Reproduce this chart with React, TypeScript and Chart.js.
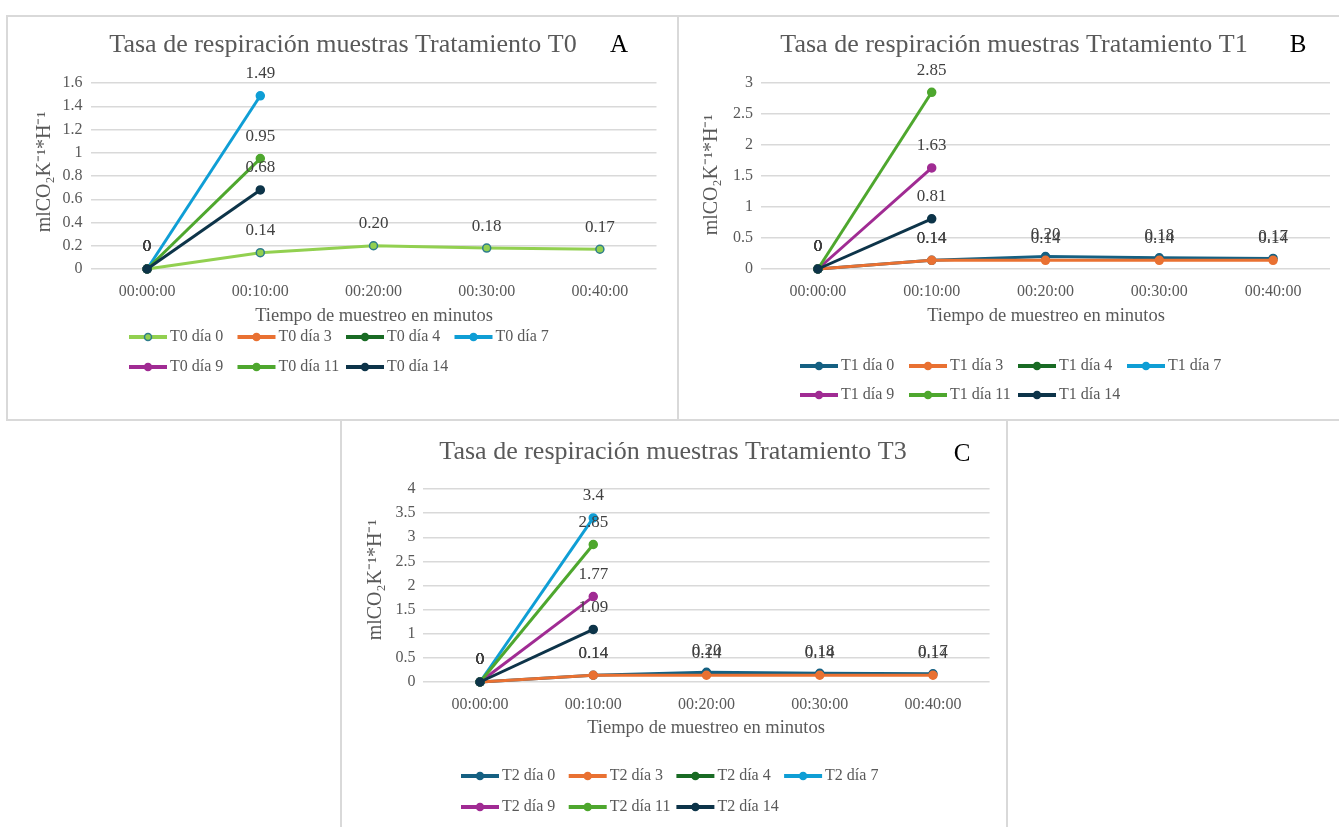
import React, { useEffect, useRef } from "react";
import { Chart, registerables } from "chart.js";
Chart.register(...registerables);

const FONT = "'Liberation Serif', 'Times New Roman', serif";
const TEXT = "#595959";
const LABEL = "#404040";

const timeLabels = ["00:00:00", "00:10:00", "00:20:00", "00:30:00", "00:40:00"];
const dayNames = ["0", "3", "4", "7", "9", "11", "14"];
const seriesColors = ["#156082", "#E97132", "#196B24", "#0F9ED5", "#A02B93", "#4EA72E", "#0D3449"];

// Tratamiento T0
const t0Dia0 = [0, 0.14, 0.2, 0.18, 0.17];
const t0Dia3 = [0];
const t0Dia4 = [0];
const t0Dia7 = [0, 1.49];
const t0Dia9 = [0];
const t0Dia11 = [0, 0.95];
const t0Dia14 = [0, 0.68];

// Tratamiento T1
const t1Dia0 = [0, 0.14, 0.2, 0.18, 0.17];
const t1Dia3 = [0, 0.14, 0.14, 0.14, 0.14];
const t1Dia4 = [0];
const t1Dia7 = [0];
const t1Dia9 = [0, 1.63];
const t1Dia11 = [0, 2.85];
const t1Dia14 = [0, 0.81];

// Tratamiento T3 (series T2)
const t2Dia0 = [0, 0.14, 0.2, 0.18, 0.17];
const t2Dia3 = [0, 0.14, 0.14, 0.14, 0.14];
const t2Dia4 = [0];
const t2Dia7 = [0, 3.4];
const t2Dia9 = [0, 1.77];
const t2Dia11 = [0, 2.85];
const t2Dia14 = [0, 1.09];

const yTitle = "mlCO₂K⁻¹*H⁻¹";
const xTitle = "Tiempo de muestreo en minutos";

function fmt(v: number) {
  if (v === 0) return "0";
  const s = v.toFixed(2);
  return v >= 1 && s.endsWith("0") ? s.slice(0, -1) : s;
}

type PanelCfg = {
  x: number; y: number; w: number; h: number;
  plot: { left: number; right: number; top: number; bottom: number };
  yMax: number; yStep: number;
  title: string; letter: string;
  titlePos: [number, number]; letterPos: [number, number];
  yTitlePos: [number, number]; xTitlePos: [number, number];
  legendX: number; legendPitch: number; legendRows: [number, number];
  prefix: string;
  data: number[][];
  colors: string[];
  pointBorders: string[];
};

const panels: PanelCfg[] = [
  {
    x: 8, y: 16, w: 670, h: 404,
    plot: { left: 82.5, right: 648.5, top: 67, bottom: 253 },
    yMax: 1.6, yStep: 0.2,
    title: "Tasa de respiración muestras Tratamiento T0", letter: "A",
    titlePos: [335, 29], letterPos: [611, 29],
    yTitlePos: [37, 156], xTitlePos: [366, 300],
    legendX: 121, legendPitch: 108.5, legendRows: [321, 351],
    prefix: "T0",
    data: [t0Dia0, t0Dia3, t0Dia4, t0Dia7, t0Dia9, t0Dia11, t0Dia14],
    colors: ["#92D050", ...seriesColors.slice(1)],
    pointBorders: ["#2E7D8C", ...seriesColors.slice(1)],
  },
  {
    x: 679, y: 16, w: 660, h: 404,
    plot: { left: 82, right: 651, top: 67, bottom: 253 },
    yMax: 3, yStep: 0.5,
    title: "Tasa de respiración muestras Tratamiento T1", letter: "B",
    titlePos: [335, 29], letterPos: [619, 29],
    yTitlePos: [33, 159], xTitlePos: [367, 300],
    legendX: 121, legendPitch: 109, legendRows: [350, 379],
    prefix: "T1",
    data: [t1Dia0, t1Dia3, t1Dia4, t1Dia7, t1Dia9, t1Dia11, t1Dia14],
    colors: seriesColors,
    pointBorders: seriesColors,
  },
  {
    x: 341, y: 421, w: 666, h: 406,
    plot: { left: 82.4, right: 648.6, top: 68, bottom: 261 },
    yMax: 4, yStep: 0.5,
    title: "Tasa de respiración muestras Tratamiento T3", letter: "C",
    titlePos: [332, 31], letterPos: [621, 33],
    yTitlePos: [35, 159], xTitlePos: [365, 307],
    legendX: 120, legendPitch: 107.7, legendRows: [355, 386],
    prefix: "T2",
    data: [t2Dia0, t2Dia3, t2Dia4, t2Dia7, t2Dia9, t2Dia11, t2Dia14],
    colors: seriesColors,
    pointBorders: seriesColors,
  },
];

function Panel({ cfg }: { cfg: PanelCfg }) {
  const ref = useRef<HTMLCanvasElement>(null);
  useEffect(() => {
    const canvas = ref.current!;
    const names = dayNames.map((d) => `${cfg.prefix} día ${d}`);
    const decor = {
      id: "decor",
      afterDatasetsDraw(chart: any) {
        const ctx = chart.ctx;
        ctx.save();
        ctx.font = `17px ${FONT}`;
        ctx.fillStyle = LABEL;
        ctx.textAlign = "center";
        ctx.textBaseline = "middle";
        chart.data.datasets.forEach((ds: any, i: number) => {
          const meta = chart.getDatasetMeta(i);
          meta.data.forEach((pt: any, j: number) => {
            const v = ds.data[j];
            if (v === null || v === undefined) return;
            ctx.fillText(fmt(v), pt.x, pt.y - 22);
          });
        });
        ctx.restore();
      },
      afterDraw(chart: any) {
        const ctx = chart.ctx;
        ctx.save();
        ctx.textBaseline = "middle";
        // title
        ctx.fillStyle = TEXT;
        ctx.textAlign = "center";
        ctx.font = `26px ${FONT}`;
        ctx.fillText(cfg.title, cfg.titlePos[0], cfg.titlePos[1]);
        // letter
        ctx.fillStyle = "#000";
        ctx.font = `25px ${FONT}`;
        ctx.fillText(cfg.letter, cfg.letterPos[0], cfg.letterPos[1]);
        // x title
        ctx.fillStyle = TEXT;
        ctx.font = `18.5px ${FONT}`;
        ctx.fillText(xTitle, cfg.xTitlePos[0], cfg.xTitlePos[1]);
        // y title
        ctx.save();
        ctx.font = `20px ${FONT}`;
        ctx.translate(cfg.yTitlePos[0], cfg.yTitlePos[1]);
        ctx.rotate(-Math.PI / 2);
        ctx.fillText(yTitle, 0, 0);
        ctx.restore();
        // legend
        ctx.font = `16px ${FONT}`;
        ctx.textAlign = "left";
        names.forEach((name, i) => {
          const col = i % 4;
          const row = Math.floor(i / 4);
          const x0 = cfg.legendX + col * cfg.legendPitch;
          const y = cfg.legendRows[row];
          ctx.strokeStyle = cfg.colors[i];
          ctx.lineWidth = 4;
          ctx.beginPath();
          ctx.moveTo(x0, y);
          ctx.lineTo(x0 + 38, y);
          ctx.stroke();
          ctx.beginPath();
          ctx.arc(x0 + 19, y, 3.5, 0, Math.PI * 2);
          ctx.fillStyle = cfg.colors[i];
          ctx.fill();
          ctx.lineWidth = 1.5;
          ctx.strokeStyle = cfg.pointBorders[i];
          ctx.stroke();
          ctx.fillStyle = TEXT;
          ctx.fillText(name, x0 + 41, y);
        });
        ctx.restore();
      },
    };

    const chart = new Chart(canvas, {
      type: "line",
      data: {
        labels: timeLabels,
        datasets: cfg.data.map((d, i) => ({
          label: names[i],
          data: d,
          borderColor: cfg.colors[i],
          backgroundColor: cfg.colors[i],
          pointBackgroundColor: cfg.colors[i],
          pointBorderColor: cfg.pointBorders[i],
          pointBorderWidth: 1.5,
          pointRadius: 4,
          borderWidth: 3,
          tension: 0,
          clip: false,
          order: -i,
        })),
      },
      options: {
        responsive: false,
        animation: false,
        devicePixelRatio: 1,
        layout: {
          padding: {
            left: cfg.plot.left - 40,
            right: cfg.w - cfg.plot.right,
            top: cfg.plot.top,
            bottom: cfg.h - cfg.plot.bottom - 40,
          },
        },
        plugins: {
          legend: { display: false },
          title: { display: false },
          tooltip: { enabled: false },
        },
        scales: {
          x: {
            type: "category",
            offset: true,
            grid: { display: false, drawTicks: false },
            border: { display: false },
            ticks: {
              color: TEXT,
              font: { family: FONT, size: 16 },
              padding: 13,
              maxRotation: 0,
              autoSkip: false,
            },
            afterFit: (s: any) => { s.height = 40; },
          },
          y: {
            min: 0,
            max: cfg.yMax,
            ticks: {
              stepSize: cfg.yStep,
              color: TEXT,
              font: { family: FONT, size: 16 },
              padding: 8,
              callback: (v: any) => String(Number(Number(v).toFixed(2))),
            },
            grid: { color: "#d9d9d9", lineWidth: 1.5, drawTicks: false },
            border: { display: false },
            afterFit: (s: any) => { s.width = 40; },
          },
        },
      },
      plugins: [decor],
    } as any);
    return () => chart.destroy();
  }, [cfg]);
  return (
    <canvas
      ref={ref}
      width={cfg.w}
      height={cfg.h}
      style={{ position: "absolute", left: cfg.x, top: cfg.y, width: cfg.w, height: cfg.h }}
    />
  );
}

const boxStyle = (l: number, t: number, w: number, h: number): React.CSSProperties => ({
  position: "absolute",
  left: l,
  top: t,
  width: w,
  height: h,
  border: "2px solid #d9d9d9",
  boxSizing: "border-box",
});

export default function App() {
  return (
    <div style={{ position: "fixed", left: 0, top: 0, width: 1339, height: 827, background: "#fff", overflow: "hidden" }}>
      <div style={boxStyle(6, 15, 673, 406)} />
      <div style={boxStyle(677, 15, 670, 406)} />
      <div style={boxStyle(340, 419, 668, 420)} />
      {panels.map((p, i) => (
        <Panel key={i} cfg={p} />
      ))}
    </div>
  );
}
